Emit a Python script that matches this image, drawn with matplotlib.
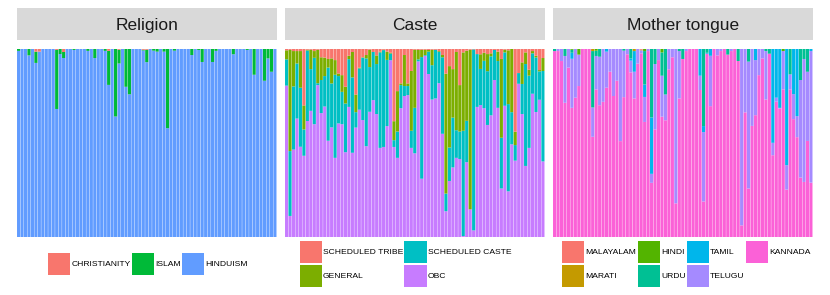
import matplotlib.pyplot as plt
import numpy as np
from matplotlib.patches import Patch

plt.rcParams['font.family'] = ['Liberation Sans', 'DejaVu Sans']

# --- data: percentage of each group per unit (75 units per facet) ---
religion_labels = ['CHRISTIANITY', 'ISLAM', 'HINDUISM']
religion_colors = ['#F8766D', '#00BA38', '#619CFF']
christianity = [0, 0, 0, 0, 0, 1.4, 1.4, 0, 0, 0, 0, 0.5, 0, 1.6, 0,
                0, 0, 0, 0, 0, 0, 0, 0, 0, 0, 0, 1.0, 0, 0, 0.4,
                0, 0, 0, 0, 0, 0, 0.4, 0.4, 0, 0, 0, 0, 0, 0, 0,
                0, 0, 0, 0, 0, 0, 0, 0, 0, 0, 0, 0, 0, 0, 0,
                0, 0, 0, 0, 0, 0, 0, 0, 0, 0, 0, 0, 0, 0, 0]
islam = [1.0, 0, 0, 3.4, 0, 6.0, 0, 0, 0, 0, 0, 31.4, 2.7, 3.2, 0,
         0, 0.5, 0, 0, 0, 1.0, 0, 4.8, 0, 0, 1.0, 18.1, 0, 35.9, 7.3,
         0, 20.1, 24.1, 0, 0, 0, 0.4, 6.6, 0, 0.9, 1.4, 0, 1.4, 42.1, 0,
         0.9, 0, 0, 0, 0, 3.2, 0, 0.5, 6.9, 0, 0, 6.9, 1.0, 0, 0,
         0, 0, 2.8, 0, 0, 0, 0.5, 0, 13.7, 0, 0, 16.9, 5.0, 12.1, 0]
hinduism = [99.0, 100, 100, 96.6, 100, 92.6, 98.6, 100, 100, 100, 100, 68.1, 97.3, 95.2, 100,
            100, 99.5, 100, 100, 100, 99.0, 100, 95.2, 100, 100, 99.0, 80.9, 100, 64.1, 92.3,
            100, 79.9, 75.9, 100, 100, 100, 99.2, 93.0, 100, 99.1, 98.6, 100, 98.6, 57.9, 100,
            99.1, 100, 100, 100, 100, 96.8, 100, 99.5, 93.1, 100, 100, 93.1, 99.0, 100, 100,
            100, 100, 97.2, 100, 100, 100, 99.5, 100, 86.3, 100, 100, 83.1, 95.0, 87.9, 100]

caste_labels = ['SCHEDULED TRIBE', 'GENERAL', 'SCHEDULED CASTE', 'OBC']
caste_colors = ['#F8766D', '#7CAE00', '#00BFC4', '#C77CFF']
sched_tribe = [0.7, 0.5, 1.1, 1.1, 1.1, 30.0, 0.4, 0.4, 1.1, 0.4, 4.4, 4.6, 5.3, 5.0, 5.9,
               13.0, 13.9, 20.1, 3.6, 1.6, 24.2, 9.9, 4.4, 3.2, 0.4, 1.6, 3.4, 1.4, 0.4, 1.4,
               2.0, 38.4, 22.4, 18.3, 3.2, 18.3, 11.7, 0.4, 0.5, 0.4, 0.4, 0.5, 0.4, 0.4, 1.1,
               3.2, 13.1, 9.1, 10.7, 1.6, 19.2, 1.8, 0.9, 0.4, 0.2, 2.7, 2.8, 2.0, 2.7, 2.3,
               0.5, 1.4, 5.3, 0.4, 0.7, 0, 44.0, 12.8, 7.1, 1.8, 11.0, 1.1, 3.6, 11.2, 4.8]
general = [4.8, 53.8, 18.8, 6.6, 19.5, 12.8, 0.4, 10.3, 3.6, 17.8, 12.1, 9.8, 4.6, 13.3, 7.8,
           1.4, 8.9, 8.9, 1.8, 13.5, 9.4, 0.4, 0.2, 1.8, 9.2, 0, 4.6, 0.4, 0.2, 4.4,
           0.4, 10.1, 21.5, 0.9, 16.5, 1.4, 31.8, 30.9, 5.0, 3.9, 2.8, 0.9, 8.2, 0, 0.4,
           1.2, 63.8, 43.3, 25.8, 41.6, 24.7, 41.7, 37.3, 84.9, 0, 0, 7.8, 4.3, 9.1, 1.6,
           0, 5.0, 41.9, 1.4, 28.6, 33.6, 7.1, 0, 11.5, 6.2, 3.2, 1.2, 0.9, 0.7, 6.9]
sched_caste = [14.0, 34.5, 33.6, 29.3, 31.4, 14.0, 37.5, 22.2, 35.3, 1.0, 17.6, 16.2, 38.9, 23.4, 44.2,
               25.2, 17.2, 25.9, 25.4, 40.1, 8.2, 22.0, 33.2, 46.7, 23.8, 25.6, 26.6, 50.8, 51.5, 35.2,
               3.6, 3.6, 14.0, 12.3, 5.3, 4.8, 9.1, 24.2, 1.1, 64.7, 0.4, 11.9, 18.3, 25.9, 16.7,
               40.7, 9.4, 17.8, 26.5, 14.7, 14.6, 56.0, 22.0, 0, 96.3, 28.1, 19.2, 25.2, 28.6, 31.4,
               16.0, 24.9, 27.0, 28.4, 46.4, 17.1, 8.3, 5.7, 16.0, 54.2, 38.4, 21.5, 29.0, 15.1, 48.1]
obc = [80.5, 11.2, 46.5, 63.0, 48.0, 43.2, 61.7, 67.1, 60.0, 80.8, 65.9, 69.4, 51.2, 58.3, 42.1,
       60.4, 60.0, 45.1, 69.2, 44.8, 58.2, 67.7, 62.2, 48.3, 66.6, 72.8, 65.4, 47.4, 47.9, 59.0,
       94.0, 47.9, 42.1, 68.5, 75.0, 75.5, 47.4, 44.5, 93.4, 31.0, 96.4, 86.7, 73.1, 73.7, 81.8,
       54.9, 13.7, 29.8, 37.0, 42.1, 41.5, 0.5, 39.8, 14.7, 3.5, 69.2, 70.2, 68.5, 59.6, 64.7,
       83.5, 68.7, 25.8, 69.8, 24.3, 49.3, 40.6, 81.5, 65.4, 37.8, 47.4, 76.2, 66.5, 73.0, 40.2]

tongue_labels = ['MALAYALAM', 'MARATI', 'HINDI', 'URDU', 'TAMIL', 'TELUGU', 'KANNADA']
tongue_colors = ['#F8766D', '#C49A00', '#53B400', '#00C094', '#00B6EB', '#A58AFF', '#FB61D7']
malayalam = [0, 0, 0, 0, 0, 0, 0, 0, 0, 0, 0, 0, 0, 0, 0,
             0, 0, 0, 0, 0, 0, 0, 0, 0, 0, 0.4, 0, 0, 0, 0,
             0, 0, 0, 0, 0, 0, 0, 0, 0, 0, 0, 0, 0, 0, 0,
             0, 0, 0, 0, 0, 0, 0, 0, 0, 0, 0, 0, 0, 0, 0,
             0, 0, 0, 0, 0, 0, 0, 0, 0, 0, 0, 0, 0, 0, 0]
marati = [0, 0, 0, 0, 0, 0, 0, 0, 0, 0, 0, 1.1, 0, 0, 0,
          0, 0, 0, 0, 0, 0, 0, 0, 1.1, 0, 0.3, 0, 0, 0, 0,
          0, 0, 0, 0, 0, 0, 0, 0, 0, 0, 0, 0, 0, 0, 0,
          0, 0, 0, 0, 0, 0, 0, 0, 0, 0, 0, 0, 0, 0, 0,
          0, 0, 0, 0, 0, 0, 0, 0, 0, 0, 0, 0, 0, 0, 0]
hindi = [0, 0, 0, 0, 0, 0.4, 0, 3.0, 0, 0, 0, 0, 0.9, 0, 0,
         0, 0, 0, 0, 0, 0, 0, 0, 0, 0, 0, 1.1, 0, 0, 0,
         0, 1.8, 0, 0, 0, 0, 0, 0, 0, 0, 0, 0, 0, 0, 0,
         0, 0, 0, 0, 0, 0, 0, 0, 0, 0, 0, 0, 0, 0, 0,
         0, 0, 0, 0, 0, 0, 1.1, 0, 0, 0, 0, 0, 0, 0, 0]
urdu = [1.1, 0, 0, 3.7, 0, 1.6, 0, 0, 0, 0, 0, 30.0, 2.8, 4.1, 0,
        0, 0, 0, 0, 0, 0.9, 0, 5.0, 0, 0, 0, 17.8, 0, 36.4, 8.0,
        0, 12.4, 24.2, 0, 0, 0, 1.1, 5.3, 0, 0, 0, 0, 0, 41.0, 2.0,
        0, 0, 0, 0, 0, 3.0, 0, 0, 6.4, 0, 0, 6.7, 0, 0, 0,
        0, 1.1, 2.5, 0, 0, 0, 0, 0, 13.5, 0, 0, 16.5, 5.3, 12.1, 0]
tamil = [0, 0, 0, 0, 0, 3.2, 0, 0, 0, 0, 0, 0, 0, 0, 0,
         1.4, 0, 0, 0, 0, 0, 0, 1.2, 11.0, 0, 0, 6.6, 0, 30.0, 0,
         0, 0, 0, 0, 0, 0, 0, 0, 0, 0, 0, 0, 14.2, 3.2, 0.5,
         3.6, 0, 0, 0, 0, 0, 0, 0, 0, 0, 0, 0, 0, 5.9, 0,
         0, 0, 0, 49.9, 25.9, 31.3, 0, 61.8, 0, 24.0, 35.7, 0, 0, 0, 1.1]
telugu = [0, 1.1, 6.4, 24.9, 9.9, 26.1, 25.9, 16.7, 0, 0, 0, 15.6, 17.8, 25.8, 28.1,
          19.2, 12.1, 25.0, 16.9, 49.0, 24.7, 2.8, 6.2, 14.2, 7.8, 1.6, 13.3, 1.1, 4.8, 34.8,
          5.9, 21.8, 13.7, 10.8, 4.4, 82.1, 25.2, 0, 1.1, 0, 0, 0, 7.6, 36.9, 0,
          26.8, 0, 3.4, 1.1, 0, 0, 1.1, 0, 0, 93.8, 33.7, 67.5, 40.9, 29.3, 13.9,
          5.0, 25.8, 0, 6.6, 2.1, 0.4, 20.4, 13.0, 8.0, 13.3, 11.2, 51.9, 65.4, 36.8, 70.0]
kannada = [98.9, 98.9, 93.6, 71.4, 90.1, 68.7, 74.1, 80.3, 100, 100, 100, 53.3, 78.5, 70.1, 71.9,
           79.4, 87.9, 75.0, 83.1, 51.0, 74.4, 97.2, 87.6, 73.7, 92.2, 97.7, 61.2, 98.9, 28.8, 57.2,
           94.1, 64.0, 62.1, 89.2, 95.6, 17.9, 73.7, 94.7, 98.9, 100, 100, 100, 78.2, 18.9, 97.5,
           69.6, 100, 96.6, 98.9, 100, 97.0, 98.9, 100, 93.6, 6.2, 66.3, 25.8, 59.1, 64.8, 86.1,
           95.0, 73.1, 97.5, 43.5, 72.0, 68.3, 78.5, 25.2, 78.5, 62.7, 53.1, 31.6, 29.3, 51.1, 28.9]

W, H = 830, 295


def px_box(left, top, width, height):
    return [left / W, 1 - (top + height) / H, width / W, height / H]


def stacked_panel(fig, k, title, series, colors):
    left = 16.5 + 268 * k
    strip = fig.add_axes(px_box(left, 8, 260.5, 31.5))
    strip.set_facecolor('#D9D9D9')
    strip.set_xticks([])
    strip.set_yticks([])
    for s in strip.spines.values():
        s.set_visible(False)
    strip.text(0.5, 0.45, title, ha='center', va='center', fontsize=12.5,
               color='#1A1A1A', transform=strip.transAxes)

    ax = fig.add_axes(px_box(left, 49, 260.5, 188))
    vals = np.array(series, dtype=float)
    vals = vals / vals.sum(axis=0)
    x = np.arange(1, vals.shape[1] + 1)
    bottom = np.zeros(vals.shape[1])
    # first level sits on top, as in ggplot's position='fill'
    for v, c in zip(vals[::-1], colors[::-1]):
        ax.bar(x, v, width=0.9, bottom=bottom, color=c, linewidth=0, snap=False)
        bottom += v
    ax.set_xlim(0.4, vals.shape[1] + 0.6)
    ax.set_ylim(0, 1)
    ax.axis('off')
    return ax


def add_legend(fig, labels, colors, ncol, left, top):
    fs = 6.1
    handles = [Patch(facecolor=c, edgecolor='none', label=l) for c, l in zip(colors, labels)]
    fig.legend(handles=handles, ncol=ncol, loc='upper left',
               bbox_to_anchor=(left / W, 1 - top / H), frameon=False,
               borderpad=0, borderaxespad=0, fontsize=fs, handlelength=2.60,
               handleheight=3.62, handletextpad=0.14, columnspacing=0.14,
               labelspacing=0.24)


fig = plt.figure(figsize=(8.3, 2.95), dpi=100)

stacked_panel(fig, 0, 'Religion', [christianity, islam, hinduism], religion_colors)
stacked_panel(fig, 1, 'Caste', [sched_tribe, general, sched_caste, obc], caste_colors)
stacked_panel(fig, 2, 'Mother tongue',
              [malayalam, marati, hindi, urdu, tamil, telugu, kannada], tongue_colors)

add_legend(fig, religion_labels, religion_colors, 3, 48.4, 253)
add_legend(fig, caste_labels, caste_colors, 2, 299.7, 241)
add_legend(fig, tongue_labels, tongue_colors, 4, 562.4, 241)

fig.savefig('out.png', dpi=100)
